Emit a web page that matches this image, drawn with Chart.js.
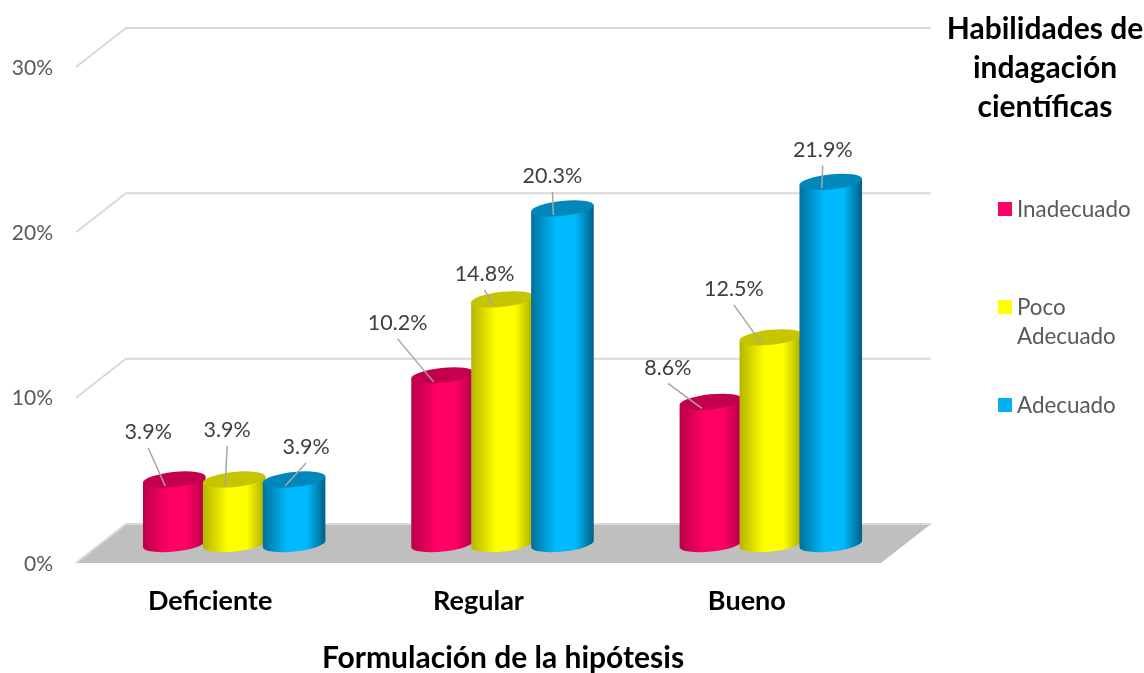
<!DOCTYPE html>
<html lang="es">
<head>
<meta charset="utf-8">
<title>Formulación de la hipótesis</title>
<script src="https://cdn.jsdelivr.net/npm/chart.js@4/dist/chart.umd.min.js"></script>
<style>
  html, body { margin: 0; background: #fff; }
  canvas { display: block; }
</style>
</head>
<body>
<canvas id="chart" width="1144" height="673"></canvas>
<script>
const categories = ["Deficiente", "Regular", "Bueno"];
const inadecuado = [3.9, 10.2, 8.6];
const pocoAdecuado = [3.9, 14.8, 12.5];
const adecuado = [3.9, 20.3, 21.9];
const seriesNames = ["Inadecuado", "Poco Adecuado", "Adecuado"];
const legendLines = [["Inadecuado"], ["Poco", "Adecuado"], ["Adecuado"]];
const legendTitle = ["Habilidades de", "indagación", "científicas"];
const axisTitle = "Formulación de la hipótesis";

// colours per series: flat (legend), bright body, shaded edges, top cap
const flatColors = ["#ff0066", "#ffff00", "#00b0f0"];
const bodyColors = ["#ff0066", "#ffff00", "#00baff"];
const leftEdges = ["#b80049", "#b4b400", "#00709a"];
const rightEdges = ["#ac0045", "#a8a800", "#005f84"];
const capColors = ["#c4004e", "#c6c600", "#0088ba"];

// where each value label sits, relative to the end of its leader line
const labelShift = [
  [[-17, -55], [-36, -60], [-34, -42]],
  [[2, -57], [-9, -33], [-28, -56]],
  [[21, -40], [-1, -40], [1, -40]]
];

const FONT = "Lato, Carlito, sans-serif";
const DEPTH_X = 50, DEPTH_Y = -39;   // floor depth
const MID_X = 24, MID_Y = -19;       // bars stand halfway back
const TILT = -6 * Math.PI / 180;

function text(ctx, str, x, y, font, color, align) {
  ctx.font = font;
  ctx.fillStyle = color;
  ctx.textAlign = align || "center";
  ctx.textBaseline = "middle";
  ctx.fillText(str, x, y);
}

function drawWalls(chart) {
  const ctx = chart.ctx, area = chart.chartArea, yScale = chart.scales.y;
  ctx.save();
  ctx.fillStyle = "#bfbfbf";
  ctx.beginPath();
  ctx.moveTo(area.left, area.bottom);
  ctx.lineTo(area.right, area.bottom);
  ctx.lineTo(area.right + DEPTH_X, area.bottom + DEPTH_Y);
  ctx.lineTo(area.left + DEPTH_X, area.bottom + DEPTH_Y);
  ctx.closePath();
  ctx.fill();

  ctx.strokeStyle = "#d9d9d9";
  ctx.lineWidth = 2;
  yScale.ticks.forEach((tick) => {
    const y = yScale.getPixelForValue(tick.value);
    ctx.beginPath();
    ctx.moveTo(area.left, y);
    ctx.lineTo(area.left + DEPTH_X, y + DEPTH_Y);
    ctx.lineTo(area.right + DEPTH_X, y + DEPTH_Y);
    ctx.stroke();
  });
  ctx.restore();
}

function drawCylinder(ctx, bar, i) {
  const a = bar.width / 2 + 1.5, b = 7.5;
  const cx = bar.x + MID_X;
  const top = bar.y + MID_Y, base = bar.base + MID_Y;
  const dx = a * Math.cos(TILT), dy = a * Math.sin(TILT);

  const shade = ctx.createLinearGradient(cx - a, 0, cx + a, 0);
  shade.addColorStop(0, leftEdges[i]);
  shade.addColorStop(0.4, bodyColors[i]);
  shade.addColorStop(0.7, bodyColors[i]);
  shade.addColorStop(1, rightEdges[i]);

  ctx.fillStyle = shade;
  ctx.beginPath();
  ctx.moveTo(cx - dx, top - dy);
  ctx.lineTo(cx - dx, base - dy);
  ctx.ellipse(cx, base, a, b, TILT, Math.PI, 0, true);
  ctx.lineTo(cx + dx, top + dy);
  ctx.closePath();
  ctx.fill();

  ctx.fillStyle = capColors[i];
  ctx.beginPath();
  ctx.ellipse(cx, top, a, b, TILT, 0, Math.PI * 2);
  ctx.fill();
}

function drawValueLabel(ctx, bar, value, shift) {
  const endX = bar.x + MID_X - 9, endY = bar.y + MID_Y + 6.5;
  const x = endX + shift[0], y = endY + shift[1];
  ctx.strokeStyle = "#a6a6a6";
  ctx.lineWidth = 1.5;
  ctx.beginPath();
  ctx.moveTo(x, y + 17);
  ctx.lineTo(endX, endY);
  ctx.stroke();
  text(ctx, value.toFixed(1) + "%", x, y + 1.5, "21.5px " + FONT, "#404040");
}

function drawLegend(ctx) {
  const rows = [209, 307, 405];
  legendTitle.forEach((line, n) => {
    text(ctx, line, 1045, 29 + n * 39, "bold 30px " + FONT, "#000");
  });
  legendLines.forEach((lines, i) => {
    ctx.fillStyle = flatColors[i];
    ctx.fillRect(998, rows[i] - 7, 14, 14);
    lines.forEach((line, n) => {
      text(ctx, line, 1017, rows[i] + 1 + n * 29, "22.4px " + FONT, "#595959", "left");
    });
  });
}

// the stock bars are replaced by shaded cylinders standing on the floor
const scene = {
  id: "scene",
  beforeDatasetsDraw(chart) {
    const ctx = chart.ctx;
    drawWalls(chart);
    ctx.save();
    chart.data.datasets.forEach((ds, i) => {
      chart.getDatasetMeta(i).data.forEach((bar) => drawCylinder(ctx, bar, i));
    });
    chart.data.datasets.forEach((ds, i) => {
      chart.getDatasetMeta(i).data.forEach((bar, j) => {
        drawValueLabel(ctx, bar, ds.data[j], labelShift[i][j]);
      });
    });
    drawLegend(ctx);
    text(ctx, axisTitle, 503, 658, "bold 30px " + FONT, "#000");
    ctx.restore();
    return false;
  }
};

new Chart(document.getElementById("chart").getContext("2d"), {
  type: "bar",
  data: {
    labels: categories,
    datasets: [
      { label: seriesNames[0], data: inadecuado, backgroundColor: flatColors[0] },
      { label: seriesNames[1], data: pocoAdecuado, backgroundColor: flatColors[1] },
      { label: seriesNames[2], data: adecuado, backgroundColor: flatColors[2] }
    ]
  },
  options: {
    responsive: false,
    animation: false,
    barPercentage: 1,
    categoryPercentage: 0.67,
    layout: { padding: { top: 67, right: 263, left: 0, bottom: 0 } },
    plugins: { legend: { display: false }, tooltip: { enabled: false } },
    scales: {
      x: {
        grid: { display: false },
        border: { display: false },
        ticks: { color: "#000", padding: 14, font: { family: FONT, size: 27, weight: "bold" } },
        afterFit(scale) { scale.height = 110; }
      },
      y: {
        min: 0,
        max: 30,
        grid: { display: false },
        border: { display: false },
        ticks: {
          stepSize: 10,
          color: "#595959",
          padding: 15,
          labelOffset: 1,
          font: { family: FONT, size: 21 },
          callback: (v) => v + "%"
        },
        afterFit(scale) { scale.width = 76; }
      }
    }
  },
  plugins: [scene]
});
</script>
</body>
</html>
